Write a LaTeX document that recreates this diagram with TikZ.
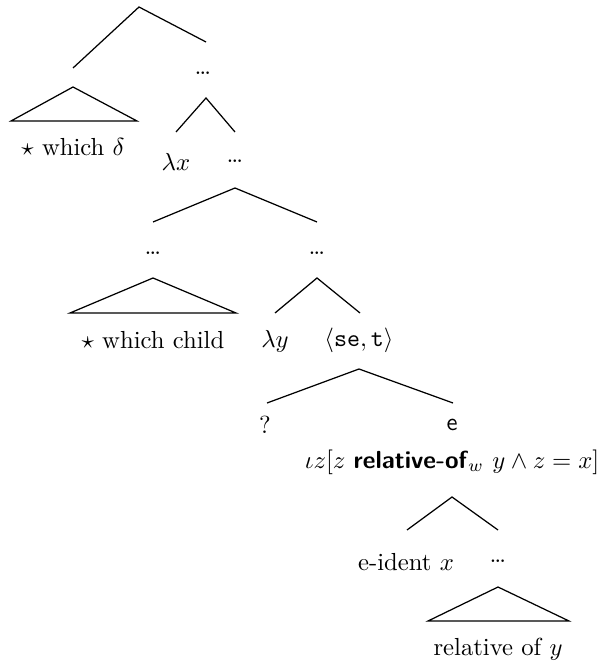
\documentclass[tikz,border=0pt]{standalone}
\usepackage{amsmath}
\begin{document}
\begin{tikzpicture}[x=0.405pt,y=-0.405pt,
  lab/.style={inner sep=0pt,font=\normalsize},
  edge/.style={draw,line width=0.5pt},
  roof/.style={draw,line width=0.5pt}]
\useasboundingbox (0,0) rectangle (596,664);
% coordinates for branch ends
\coordinate (r) at (139,7);
\coordinate (a1) at (73,68);
\coordinate (a2) at (206,42);
\coordinate (t1) at (73,87);
\coordinate (t1l) at (11,121);
\coordinate (t1r) at (137,121);
\coordinate (b) at (206,98);
\coordinate (bl) at (176,132);
\coordinate (br) at (235,132);
\coordinate (c) at (235,188);
\coordinate (cl) at (153,222);
\coordinate (cr) at (317,222);
\coordinate (t2) at (153,278);
\coordinate (t2l) at (70,313);
\coordinate (t2r) at (236,313);
\coordinate (d) at (317,278);
\coordinate (dl) at (275,313);
\coordinate (dr) at (360,313);
\coordinate (e) at (359,369);
\coordinate (el) at (267,403);
\coordinate (er) at (453,403);
\coordinate (f) at (452,497);
\coordinate (fl) at (407,530);
\coordinate (fr) at (498,530);
\coordinate (t3) at (498,587);
\coordinate (t3l) at (428,621);
\coordinate (t3r) at (569,621);
% labels
\node[lab] (n1) at (203,73) {\dots};
\node[lab] (wd) at (73,147) {$\star$ which $\delta$};
\node[lab] (lx) at (176,162) {$\lambda x$};
\node[lab] (n2) at (235,161) {\dots};
\node[lab] (n3) at (153,253) {\dots};
\node[lab] (n4) at (317,253) {\dots};
\node[lab] (wc) at (153,340) {$\star$ which child};
\node[lab] (ly) at (275,341) {$\lambda y$};
\node[lab] (set) at (359,340) {$\langle\texttt{se},\texttt{t}\rangle$};
\node[lab] (q) at (265,425) {?};
\node[lab] (ee) at (452,425) {\textsf{e}};
\node[lab] (iz) at (452,462) {$\iota z[z\ \textsf{\textbf{relative-of}}_w\ y\wedge z=x]$};
\node[lab] (ei) at (406,562) {e-ident $x$};
\node[lab] (n5) at (498,561) {\dots};
\node[lab] (ro) at (498,649) {relative of $y$};
% branches
\draw[edge] (a1) -- (r) -- (a2);
\draw[roof] (t1) -- (t1l) -- (t1r) -- cycle;
\draw[edge] (bl) -- (b) -- (br);
\draw[edge] (cl) -- (c) -- (cr);
\draw[roof] (t2) -- (t2l) -- (t2r) -- cycle;
\draw[edge] (dl) -- (d) -- (dr);
\draw[edge] (el) -- (e) -- (er);
\draw[edge] (fl) -- (f) -- (fr);
\draw[roof] (t3) -- (t3l) -- (t3r) -- cycle;
\end{tikzpicture}
\end{document}
